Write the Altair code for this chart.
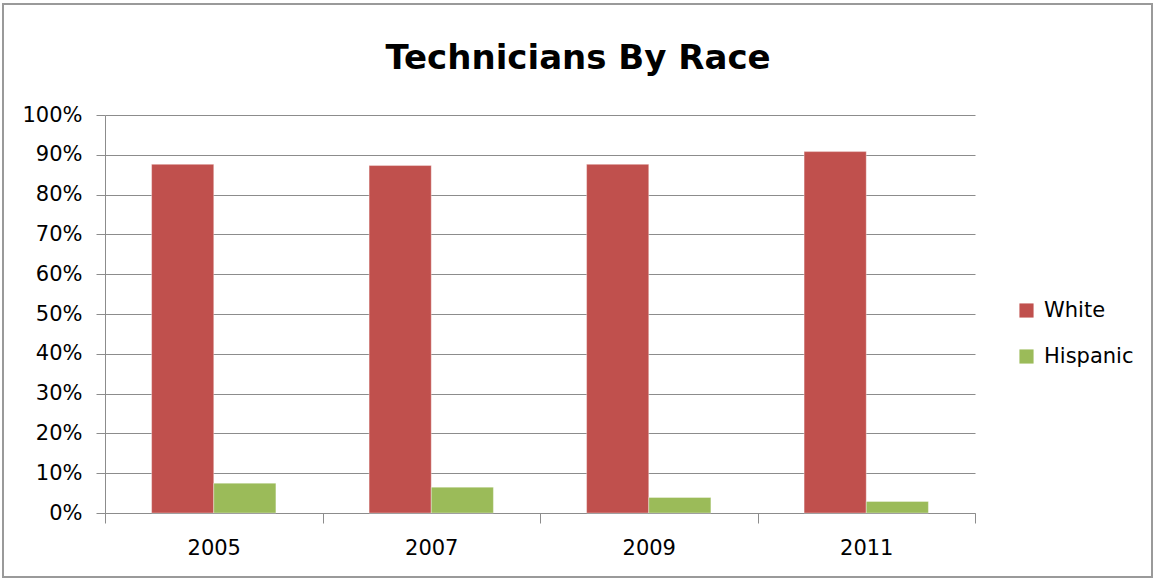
import altair as alt
import pandas as pd

# Share of technicians by race, per survey year
years = ["2005", "2007", "2009", "2011"]
white = [0.876, 0.873, 0.876, 0.908]
hispanic = [0.075, 0.065, 0.039, 0.029]
series = ["White", "Hispanic"]
colors = ["#C0504D", "#9BBB59"]
title_text = "Technicians By Race"

rows = []
for i, y in enumerate(years):
    rows.append({"year": y, "race": "White", "share": white[i]})
    rows.append({"year": y, "race": "Hispanic", "share": hispanic[i]})
df = pd.DataFrame(rows)

PLOT_W, PLOT_H = 870, 398
PAD = {"left": 105, "top": 115, "right": 180, "bottom": 68}
FONT = "DejaVu Sans"
GRID = "#8C8C8C"

bars = alt.Chart(df).mark_bar(stroke="#FFFFFF", strokeOpacity=0.35, strokeWidth=1).encode(
    x=alt.X(
        "year:N",
        sort=years,
        title=None,
        scale=alt.Scale(paddingInner=0, paddingOuter=0),
        axis=alt.Axis(
            labelAngle=0,
            labelFontSize=21,
            labelFont=FONT,
            labelColor="#000000",
            labelPadding=14,
            tickBand="extent",
            tickSize=10,
            tickColor=GRID,
            domainColor=GRID,
            grid=False,
        ),
    ),
    xOffset=alt.XOffset(
        "race:N",
        sort=series,
        scale=alt.Scale(paddingInner=0, paddingOuter=0.75),
    ),
    y=alt.Y(
        "share:Q",
        title=None,
        scale=alt.Scale(domain=[0, 1], nice=False),
        axis=alt.Axis(
            format=".0%",
            values=[i / 10 for i in range(11)],
            labelFontSize=21,
            labelFont=FONT,
            labelColor="#000000",
            labelPadding=14,
            tickSize=9,
            tickColor=GRID,
            domainColor=GRID,
            gridColor=GRID,
            gridWidth=1,
        ),
    ),
    color=alt.Color(
        "race:N",
        sort=series,
        scale=alt.Scale(domain=series, range=colors),
        legend=alt.Legend(
            title=None,
            orient="none",
            legendX=911,
            legendY=185,
            symbolType="square",
            symbolSize=200,
            symbolStrokeWidth=0,
            labelFontSize=21,
            labelFont=FONT,
            labelColor="#000000",
            rowPadding=24,
            labelOffset=7,
        ),
    ),
)

# Chart heading, centred on the whole figure
heading = alt.Chart(alt.Data(values=[{"t": title_text}])).mark_text(
    font=FONT, fontSize=34, fontWeight="bold", color="#000000",
    align="center", baseline="alphabetic",
).encode(
    text="t:N",
    x=alt.value(473),
    y=alt.value(-46),
)

# Thin frame around the whole figure
frame = alt.Chart(alt.Data(values=[{}])).mark_rect(
    fill=None, stroke="#9A9A9A", strokeWidth=2
).encode(
    x=alt.value(-102),
    x2=alt.value(PLOT_W + PAD["right"] - 3),
    y=alt.value(-111),
    y2=alt.value(PLOT_H + PAD["bottom"] - 4),
)

chart = (
    alt.layer(bars, heading, frame)
    .properties(
        width=PLOT_W,
        height=PLOT_H,
        autosize=alt.AutoSizeParams(type="none"),
        padding=PAD,
        background="#FFFFFF",
    )
    .configure_view(stroke=None)
)

chart.save("out.html", embed_options={"renderer": "svg", "actions": False})
